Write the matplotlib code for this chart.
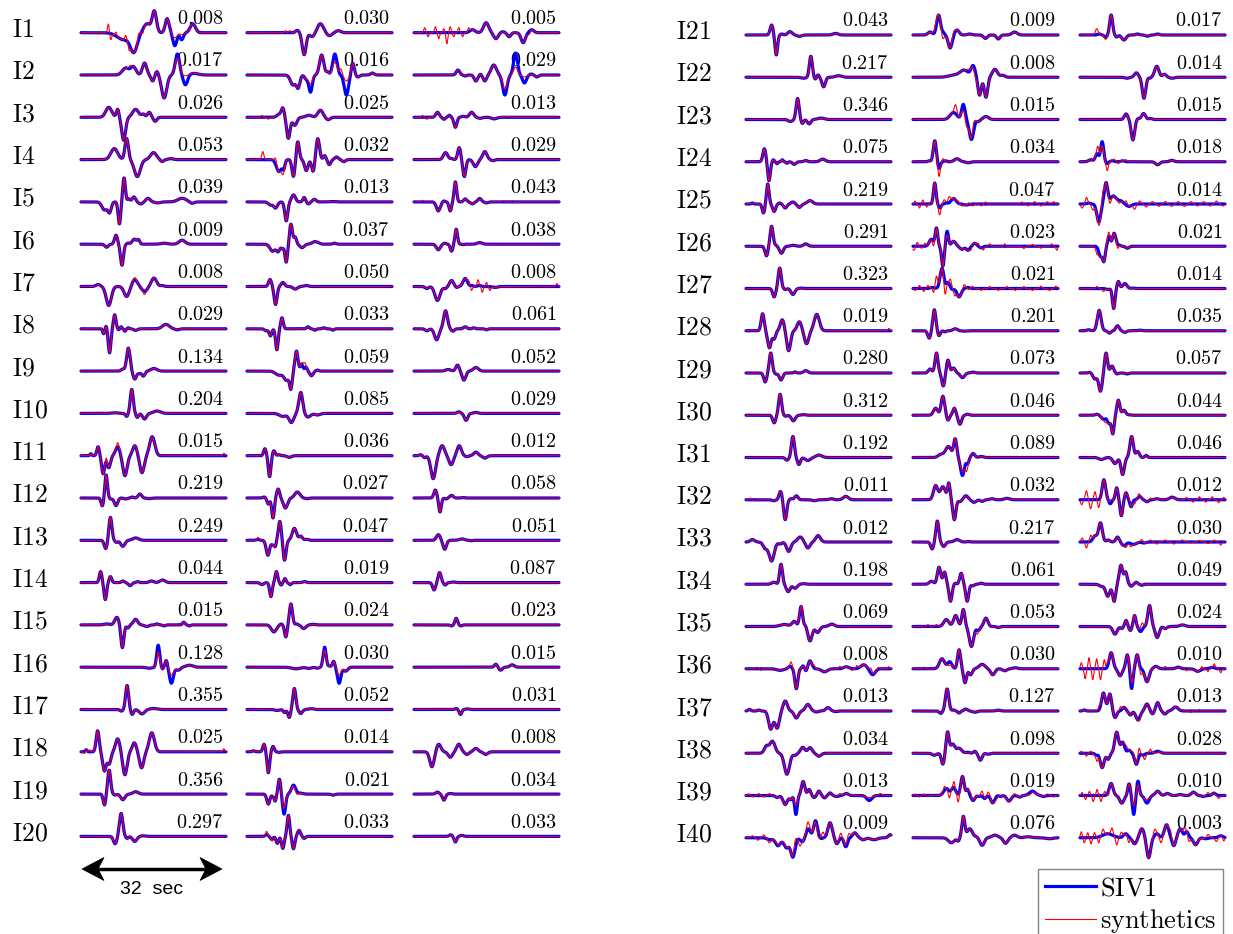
import numpy as np
import matplotlib
matplotlib.use("Agg")
import matplotlib.pyplot as plt
from matplotlib.lines import Line2D
from matplotlib.patches import Polygon

plt.rcParams['mathtext.fontset'] = 'cm'

# station names and the number printed above each trace (3 components per station)
stations = ["I%d" % k for k in range(1, 41)]
trace_labels = [
    [0.008, 0.030, 0.005], [0.017, 0.016, 0.029], [0.026, 0.025, 0.013], [0.053, 0.032, 0.029],
    [0.039, 0.013, 0.043], [0.009, 0.037, 0.038], [0.008, 0.050, 0.008], [0.029, 0.033, 0.061],
    [0.134, 0.059, 0.052], [0.204, 0.085, 0.029], [0.015, 0.036, 0.012], [0.219, 0.027, 0.058],
    [0.249, 0.047, 0.051], [0.044, 0.019, 0.087], [0.015, 0.024, 0.023], [0.128, 0.030, 0.015],
    [0.355, 0.052, 0.031], [0.025, 0.014, 0.008], [0.356, 0.021, 0.034], [0.297, 0.033, 0.033],
    [0.043, 0.009, 0.017], [0.217, 0.008, 0.014], [0.346, 0.015, 0.015], [0.075, 0.034, 0.018],
    [0.219, 0.047, 0.014], [0.291, 0.023, 0.021], [0.323, 0.021, 0.014], [0.019, 0.201, 0.035],
    [0.280, 0.073, 0.057], [0.312, 0.046, 0.044], [0.192, 0.089, 0.046], [0.011, 0.032, 0.012],
    [0.012, 0.217, 0.030], [0.198, 0.061, 0.049], [0.069, 0.053, 0.024], [0.008, 0.030, 0.010],
    [0.013, 0.127, 0.013], [0.034, 0.098, 0.028], [0.013, 0.019, 0.010], [0.009, 0.076, 0.003],
]

# SIV1 waveforms: each pulse is (time [s], amplitude, half width [s])
siv1_col1 = [
    [(10.0, -0.35, 1.5), (12.4, -0.9, 0.8), (15.5, 0.45, 0.8), (17.2, 1.05, 0.5), (20.2, 0.7, 0.45), (22.0, -0.65, 0.45), (23.6, -0.35, 0.4), (26.2, 0.45, 0.6)],
    [(10.5, 0.35, 0.8), (12.3, 0.4, 0.6), (14.9, 0.6, 0.5), (16.8, -0.3, 0.4), (17.8, 0.2, 0.35), (19.5, -1.15, 0.6), (22.6, 1.05, 0.5), (24.5, -0.5, 0.5), (26.5, 0.08, 1.0)],
    [(6.5, 0.5, 0.7), (8.6, 0.4, 0.3), (10.0, -1.15, 0.45), (12.8, 0.4, 0.7), (14.6, 0.15, 0.4), (16.0, 0.25, 0.4), (17.4, -0.2, 0.4)],
    [(7.8, 0.55, 0.8), (10.7, 1.05, 0.4), (13.2, -0.85, 0.7), (17.0, 0.35, 0.7), (19.0, -0.1, 0.4), (21.0, 0.05, 0.5)],
    [(5.5, -0.4, 0.6), (6.7, -0.5, 0.4), (9.0, -1.1, 0.3), (10.1, 1.2, 0.3), (11.2, 0.15, 0.3), (12.4, 0.25, 0.4), (14.0, -0.1, 0.5), (15.7, 0.18, 0.5), (18.0, -0.05, 0.6), (23.7, 0.18, 1.0), (26.0, -0.08, 0.5)],
    [(6.0, -0.15, 0.4), (8.2, 0.45, 0.35), (9.6, -1.05, 0.35), (11.0, 0.05, 0.3), (12.5, 0.25, 0.5), (13.5, 0.2, 0.3), (19.5, 0.05, 0.8), (23.7, 0.2, 0.7)],
    [(4.0, 0.1, 0.5), (6.5, -0.95, 0.6), (10.7, -0.5, 0.6), (12.6, 0.35, 0.6), (14.9, -0.25, 0.6), (17.1, 0.42, 0.6), (19.0, 0.05, 0.4)],
    [(5.3, -0.25, 0.2), (5.9, 0.15, 0.2), (6.7, -1.2, 0.3), (7.9, 0.7, 0.3), (8.8, -0.05, 0.2), (9.4, 0.1, 0.2), (10.3, -0.12, 0.2), (11.1, 0.05, 0.2), (12.8, -0.08, 0.4), (19.9, 0.22, 0.8), (22.5, -0.05, 0.5)],
    [(9.8, 0.1, 0.4), (11.1, 1.15, 0.4), (12.6, -0.4, 0.4), (13.6, -0.1, 0.3), (14.6, -0.25, 0.4), (17.1, 0.13, 0.7)],
    [(8.0, 0.03, 0.8), (10.7, -0.15, 0.3), (11.9, 1.2, 0.35), (13.2, -0.2, 0.3), (14.9, -0.28, 0.45), (17.8, 0.12, 0.8)],
    [(2.3, 0.1, 0.2), (4.0, 0.45, 0.3), (5.2, -0.9, 0.35), (6.5, -0.6, 0.4), (8.6, 0.45, 0.5), (10.3, -1.0, 0.5), (12.6, 0.5, 0.5), (14.3, -0.85, 0.5), (16.7, 0.95, 0.6)],
    [(5.0, -0.4, 0.3), (5.9, 1.15, 0.3), (7.0, -0.05, 0.3), (8.2, -0.38, 0.4), (10.5, -0.05, 0.4), (12.0, 0.05, 0.3), (13.8, 0.2, 0.4), (16.0, -0.03, 0.6)],
    [(5.8, -0.42, 0.35), (6.9, 1.15, 0.35), (8.3, -0.1, 0.35), (9.8, -0.3, 0.5), (12.8, 0.12, 0.7)],
    [(4.6, 0.55, 0.3), (5.7, -0.85, 0.3), (6.9, 0.3, 0.3), (9.8, 0.08, 0.3), (11.5, -0.15, 0.4), (13.3, 0.05, 0.3), (16.5, 0.08, 0.5), (19.1, 0.13, 0.6)],
    [(6.0, 0.05, 0.6), (8.4, 0.38, 0.5), (9.7, -1.15, 0.35), (11.0, -0.15, 0.3), (12.8, 0.28, 0.5), (15.4, -0.08, 0.5), (17.8, 0.05, 0.3), (19.5, -0.05, 0.3), (24.1, 0.13, 0.3), (25.4, -0.05, 0.3)],
    [(16.0, -0.05, 0.8), (18.1, 1.1, 0.35), (19.1, -0.1, 0.25), (20.0, 0.35, 0.3), (21.2, -0.8, 0.45), (22.8, -0.15, 0.5), (25.4, 0.1, 0.8)],
    [(9.5, -0.08, 0.35), (10.8, 1.2, 0.35), (12.0, -0.25, 0.3), (14.3, -0.22, 0.6), (17.0, 0.05, 0.8)],
    [(1.2, 0.1, 0.2), (3.9, 1.05, 0.35), (5.5, -0.95, 0.4), (6.6, -0.6, 0.4), (8.6, 0.65, 0.5), (10.3, -1.15, 0.5), (12.5, 0.45, 0.5), (14.2, -0.8, 0.5), (16.6, 0.95, 0.6)],
    [(5.5, -0.55, 0.3), (6.6, 1.2, 0.35), (8.0, -0.05, 0.3), (9.8, -0.28, 0.5), (12.8, 0.12, 0.6)],
    [(8.0, -0.37, 0.4), (9.4, 1.15, 0.4), (10.8, -0.1, 0.3), (12.6, -0.25, 0.5), (14.5, 0.03, 0.5)],
    [(6.0, 0.5, 0.35), (7.1, -1.0, 0.3), (8.4, 0.05, 0.3), (10.3, 0.17, 0.5), (12.5, -0.07, 0.5), (21.0, 0.08, 0.6)],
    [(13.5, -0.05, 0.6), (15.2, 1.05, 0.35), (16.2, -0.1, 0.25), (16.9, 0.12, 0.25), (18.2, -0.48, 0.4), (21.7, 0.08, 0.7)],
    [(10.4, -0.1, 0.5), (12.1, 1.05, 0.35), (13.2, -0.2, 0.3), (14.8, -0.22, 0.4), (17.6, 0.07, 0.7)],
    [(4.3, 0.65, 0.35), (5.4, -0.95, 0.3), (6.4, 0.1, 0.2), (7.3, -0.1, 0.2), (8.5, 0.1, 0.2), (9.6, -0.08, 0.2), (11.3, -0.13, 0.4), (14.0, 0.06, 0.4), (18.0, 0.13, 0.6)],
    [(1.5, 0.05, 0.2), (4.1, -0.45, 0.3), (5.1, 1.0, 0.3), (6.6, -0.37, 0.35), (7.9, 0.05, 0.3), (9.2, -0.2, 0.4), (11.0, 0.1, 0.45), (12.5, -0.17, 0.45), (15.0, 0.17, 0.6)],
    [(4.8, -0.48, 0.35), (6.0, 1.0, 0.35), (7.0, 0.05, 0.3), (8.3, -0.35, 0.45), (11.0, 0.05, 0.5), (14.0, 0.12, 0.5)],
    [(6.6, -0.42, 0.35), (7.9, 1.02, 0.35), (9.2, -0.05, 0.3), (11.0, -0.3, 0.45), (13.0, 0.02, 0.4)],
    [(3.9, 0.85, 0.35), (5.5, -0.85, 0.4), (6.6, -0.4, 0.35), (8.5, 0.55, 0.45), (10.0, -1.0, 0.45), (12.5, 0.45, 0.5), (14.2, -0.65, 0.5), (16.6, 0.82, 0.6)],
    [(4.5, -0.45, 0.35), (5.8, 1.0, 0.35), (7.0, -0.05, 0.3), (8.2, -0.35, 0.4), (11.5, 0.05, 0.3), (14.0, 0.12, 0.5)],
    [(6.6, -0.38, 0.35), (8.0, 1.05, 0.35), (9.3, -0.05, 0.3), (11.1, -0.28, 0.45), (13.5, 0.03, 0.5)],
    [(9.6, -0.13, 0.4), (11.0, 1.05, 0.35), (12.4, -0.35, 0.35), (14.5, -0.15, 0.6), (17.1, 0.12, 0.7)],
    [(6.5, -0.05, 0.4), (8.1, 0.42, 0.35), (9.2, -1.0, 0.35), (10.6, 0.05, 0.3), (11.8, 0.2, 0.4), (16.0, -0.05, 0.5), (20.0, 0.05, 0.5), (23.4, 0.17, 0.6)],
    [(1.5, 0.12, 0.5), (4.5, -0.3, 0.5), (6.0, -0.95, 0.6), (8.0, -0.1, 0.4), (10.0, -0.47, 0.5), (12.7, 0.25, 0.6), (14.5, -0.3, 0.5), (16.9, 0.32, 0.55)],
    [(6.5, 0.1, 0.5), (7.6, -0.05, 0.2), (8.2, 1.0, 0.35), (9.9, -0.37, 0.45), (11.5, -0.2, 0.5), (13.5, 0.03, 0.5)],
    [(9.0, 0.1, 1.0), (11.3, 0.25, 0.5), (12.9, 1.0, 0.35), (14.0, 0.1, 0.3), (15.0, -0.72, 0.5), (16.8, -0.3, 0.5), (20.1, 0.12, 0.6)],
    [(8.0, -0.08, 0.8), (10.3, 0.12, 0.4), (11.8, -1.0, 0.35), (13.4, 0.15, 0.3), (14.1, -0.15, 0.3), (15.0, 0.4, 0.45), (18.4, -0.15, 0.7), (23.5, 0.1, 0.6), (27.6, 0.2, 0.7), (29.7, -0.3, 0.6)],
    [(0.8, 0.08, 0.3), (3.0, 0.05, 0.3), (5.8, -0.9, 0.5), (7.3, -0.85, 0.5), (9.2, 0.5, 0.5), (11.8, -0.35, 0.5), (14.5, 0.33, 0.55), (16.5, -0.05, 0.4), (19.2, 0.17, 0.5), (21.0, -0.03, 0.4)],
    [(4.8, 0.35, 0.5), (6.2, 0.6, 0.6), (9.6, -1.05, 0.6), (11.5, -0.1, 0.4), (13.3, 0.3, 0.5), (15.0, 0.28, 0.5), (17.1, -0.15, 0.5)],
    [(7.3, -0.1, 0.4), (9.2, -0.45, 0.5), (10.5, -0.2, 0.3), (11.7, -0.95, 0.3), (13.4, 0.7, 0.4), (14.8, 0.3, 0.35), (16.0, -0.1, 0.35), (17.1, 0.22, 0.35), (18.4, -0.12, 0.35), (19.7, 0.13, 0.35), (21.2, -0.05, 0.4), (23.5, 0.1, 0.5), (28.9, -0.25, 0.6)],
    [(5.5, -0.1, 0.6), (7.5, -0.4, 0.6), (9.5, -0.5, 0.6), (11.0, -0.95, 0.5), (13.2, -0.2, 0.5), (14.6, 0.45, 0.5), (16.3, 0.85, 0.45), (17.6, -0.05, 0.3), (19.7, 0.75, 0.5), (21.3, -0.3, 0.4), (23.4, -0.45, 0.4), (25.5, 0.25, 0.5), (27.5, -0.1, 0.5), (30.0, -0.1, 0.8), (33.8, 0.15, 0.4)],
]

siv1_col2 = [
    [(11.8, 0.12, 0.4), (13.4, -1.1, 0.45), (15.3, -0.2, 0.6), (17.2, 0.45, 0.7), (19.3, -0.15, 0.6), (21.4, 0.1, 0.6)],
    [(10.8, -0.5, 0.6), (12.0, -0.6, 0.4), (13.9, -0.2, 0.4), (14.9, -0.85, 0.4), (17.5, 1.0, 0.5), (18.9, 0.15, 0.3), (20.6, 1.05, 0.5), (23.3, -1.0, 0.5), (24.8, 0.6, 0.35), (26.0, -0.1, 0.4), (29.4, 0.1, 0.4)],
    [(7.5, 0.15, 0.5), (8.4, 0.45, 0.35), (9.7, -1.05, 0.4), (11.2, -0.4, 0.5), (14.5, 0.1, 0.7), (17.2, 0.35, 0.6), (19.0, -0.12, 0.5)],
    [(7.5, -0.6, 0.6), (8.6, -0.4, 0.3), (10.9, -0.85, 0.35), (11.9, 0.9, 0.35), (13.9, -0.55, 0.4), (15.5, -0.6, 0.35), (16.6, 1.05, 0.4), (18.2, 0.2, 0.3), (19.3, -0.25, 0.35), (21.0, 0.13, 0.4), (22.7, -0.1, 0.4)],
    [(5.5, -0.15, 0.5), (6.7, -0.3, 0.45), (9.2, -0.95, 0.35), (10.9, 0.35, 0.45), (13.4, 0.22, 0.3), (14.4, -0.1, 0.3), (15.8, 0.13, 0.4), (20.0, 0.02, 0.6)],
    [(6.0, -0.35, 0.6), (7.3, -0.35, 0.4), (8.3, -0.2, 0.3), (9.2, -0.9, 0.3), (10.3, 1.0, 0.35), (11.3, 0.35, 0.3), (12.9, -0.17, 0.5), (16.0, 0.13, 0.7), (20.5, 0.05, 0.4)],
    [(5.4, 0.35, 0.35), (6.7, -0.9, 0.35), (8.4, 0.2, 0.4), (11.3, -0.13, 0.5), (13.9, 0.05, 0.5)],
    [(4.5, -0.1, 0.4), (5.5, -0.35, 0.3), (7.0, -1.05, 0.3), (8.2, 0.55, 0.3), (14.3, 0.1, 0.3), (15.9, -0.07, 0.3), (18.0, 0.05, 0.3), (20.1, -0.07, 0.3)],
    [(7.5, -0.2, 0.8), (9.3, -0.45, 0.6), (10.3, -0.8, 0.3), (11.6, 1.0, 0.35), (12.8, 0.35, 0.3), (13.8, 0.2, 0.3), (15.1, -0.23, 0.4), (16.5, 0.05, 0.3)],
    [(8.4, -0.15, 0.8), (10.4, -0.45, 0.55), (12.6, 1.05, 0.45), (14.3, -0.18, 0.6), (16.5, -0.08, 0.6)],
    [(4.2, 0.35, 0.3), (5.3, -1.05, 0.3), (6.3, 0.25, 0.3), (7.5, 0.05, 0.3), (9.9, -0.08, 0.5)],
    [(4.0, 0.05, 0.3), (5.0, -0.3, 0.3), (6.1, -1.0, 0.3), (7.3, 0.45, 0.35), (9.0, -0.5, 0.5), (11.8, 0.3, 0.6), (14.0, -0.03, 0.5)],
    [(2.5, 0.05, 0.3), (4.9, -0.75, 0.4), (6.0, -0.2, 0.3), (6.6, -0.3, 0.25), (7.7, 0.95, 0.35), (8.8, -1.0, 0.35), (11.1, 0.6, 0.5), (12.6, 0.2, 0.4), (14.0, 0.05, 0.4)],
    [(3.5, -0.1, 0.4), (5.6, -0.7, 0.3), (6.9, 0.55, 0.3), (8.0, -0.12, 0.25), (8.9, 0.2, 0.25), (10.1, -0.1, 0.3), (13.5, 0.05, 0.4)],
    [(6.3, -0.35, 0.6), (8.0, 0.05, 0.3), (9.1, -0.6, 0.3), (10.3, 1.05, 0.35), (11.6, 0.05, 0.3), (13.3, -0.18, 0.5), (15.5, 0.03, 0.5)],
    [(11.5, -0.08, 1.0), (14.5, -0.06, 0.6), (16.5, -0.05, 0.4), (18.2, 1.0, 0.35), (19.3, 0.05, 0.3), (20.3, 0.3, 0.3), (21.6, -0.8, 0.4), (23.1, -0.2, 0.5)],
    [(7.0, -0.05, 0.5), (8.8, -0.15, 0.3), (9.9, -0.4, 0.3), (11.1, 1.05, 0.35), (12.6, -0.2, 0.4), (15.1, 0.04, 0.6)],
    [(1.5, 0.05, 0.3), (4.0, 0.38, 0.3), (5.0, -1.05, 0.3), (6.1, 0.27, 0.3), (7.5, -0.03, 0.3)],
    [(5.0, -0.5, 0.35), (6.0, -0.1, 0.2), (6.6, -0.35, 0.25), (7.6, 0.75, 0.3), (8.7, -1.0, 0.35), (10.9, 0.45, 0.5), (12.5, 0.05, 0.5), (20.2, -0.05, 0.4)],
    [(4.6, 0.1, 0.3), (5.8, -0.15, 0.3), (7.1, -0.35, 0.3), (8.4, -0.6, 0.3), (9.7, 1.05, 0.3), (10.9, -0.62, 0.3), (12.2, 0.3, 0.35), (13.4, -0.1, 0.3)],
    [(4.0, 0.15, 0.5), (6.0, 1.0, 0.45), (7.1, 0.1, 0.3), (8.7, -0.65, 0.45), (10.3, 0.25, 0.5), (13.2, 0.05, 0.5), (17.0, -0.17, 0.45), (20.0, -0.2, 0.4), (23.8, 0.15, 0.6)],
    [(9.5, 0.1, 1.2), (12.0, 0.35, 1.0), (14.1, 0.55, 0.5), (15.6, -0.9, 0.4), (17.1, -1.0, 0.4), (19.2, 0.4, 0.6), (21.0, 0.1, 0.5)],
    [(9.5, 0.35, 0.8), (11.8, 0.75, 0.4), (13.7, -1.0, 0.5), (15.3, -0.1, 0.4), (17.1, 0.15, 0.6)],
    [(3.8, 0.05, 0.3), (5.1, 1.05, 0.35), (6.1, -0.35, 0.3), (7.6, 0.05, 0.3), (10.3, 0.15, 0.6), (13.0, -0.05, 0.5)],
    [(5.1, 1.05, 0.3), (6.3, -0.2, 0.3), (7.8, 0.05, 0.3), (9.5, 0.27, 0.6), (12.5, -0.05, 0.6)],
    [(4.3, 0.35, 0.5), (5.5, 0.9, 0.3), (7.0, -1.0, 0.3), (8.0, 0.75, 0.3), (9.5, 0.25, 0.5), (11.5, -0.15, 0.5), (12.9, -0.2, 0.4), (14.5, 0.15, 0.4), (16.0, -0.08, 0.4)],
    [(4.5, 0.05, 0.5), (6.8, 1.0, 0.45), (8.2, 0.3, 0.35), (9.3, -0.05, 0.3), (10.8, -0.42, 0.5), (12.8, 0.05, 0.5)],
    [(3.8, -0.37, 0.35), (5.0, 1.05, 0.35), (6.1, -0.25, 0.3), (7.5, -0.05, 0.3), (9.9, 0.1, 0.5), (12.0, -0.02, 0.5)],
    [(4.0, 0.2, 0.4), (5.5, 1.0, 0.35), (7.1, -0.65, 0.35), (8.2, 0.65, 0.35), (9.5, 0.25, 0.4), (11.6, -0.23, 0.5), (14.0, 0.04, 0.5)],
    [(5.3, 0.35, 0.5), (7.0, 0.95, 0.4), (8.2, -0.25, 0.3), (9.7, 0.35, 0.35), (11.0, -0.45, 0.4), (12.8, 0.05, 0.4)],
    [(6.5, 0.15, 0.6), (8.3, 0.55, 0.7), (9.9, 0.9, 0.35), (11.6, -0.9, 0.45), (12.8, -0.3, 0.3), (14.1, 0.2, 0.4), (16.0, 0.05, 0.5)],
    [(5.3, 0.7, 0.5), (7.0, 0.65, 0.6), (8.4, 0.8, 0.3), (9.7, -1.0, 0.35), (11.0, -0.1, 0.4), (12.4, 0.2, 0.5), (14.3, -0.13, 0.5), (16.2, -0.08, 0.4), (18.5, 0.05, 0.5), (22.0, 0.07, 0.6)],
    [(4.5, -0.35, 0.35), (5.7, 1.05, 0.35), (7.2, -0.22, 0.4), (10.3, 0.12, 0.6), (13.0, 0.02, 0.4)],
    [(4.3, 0.15, 0.5), (6.1, 0.85, 0.4), (7.4, 0.6, 0.35), (8.8, -0.85, 0.35), (9.9, 0.05, 0.3), (11.3, 0.55, 0.35), (12.7, -0.85, 0.35), (14.0, -0.08, 0.35), (16.0, 0.05, 0.4)],
    [(7.8, 0.35, 0.6), (10.0, 0.55, 0.5), (11.8, 0.85, 0.35), (13.7, -1.0, 0.5), (15.3, -0.2, 0.4), (17.1, 0.42, 0.45), (20.0, -0.05, 0.4)],
    [(6.8, 0.5, 0.6), (8.6, 0.35, 0.5), (10.8, 0.95, 0.35), (12.2, -0.7, 0.35), (13.5, -0.3, 0.4), (16.2, 0.22, 0.7), (18.7, -0.3, 0.5), (21.5, -0.1, 0.5), (24.0, 0.05, 0.5)],
    [(6.5, -0.12, 0.35), (8.0, 1.1, 0.4), (9.5, 0.05, 0.3), (10.8, -0.1, 0.3), (12.4, 0.1, 0.4), (14.5, -0.06, 0.5), (20.0, 0.04, 0.5)],
    [(5.0, -0.1, 0.5), (7.0, -0.55, 0.35), (8.1, 1.05, 0.35), (9.3, 0.45, 0.5), (10.8, 0.25, 0.6), (12.8, 0.05, 0.5), (14.5, 0.1, 0.3), (15.8, -0.35, 0.4), (17.6, -0.05, 0.4)],
    [(7.8, 0.35, 0.6), (9.5, 0.4, 0.5), (11.6, 0.95, 0.4), (12.8, 0.3, 0.3), (14.1, -0.25, 0.4), (15.5, -0.05, 0.3), (16.8, -0.15, 0.35), (18.7, -0.37, 0.45), (20.5, -0.05, 0.3), (22.5, -0.28, 0.5), (25.0, -0.08, 0.4), (28.0, 0.22, 0.7), (30.6, -0.05, 0.4)],
    [(9.0, -0.25, 0.7), (10.6, -0.15, 0.3), (11.8, 1.05, 0.35), (13.3, 0.45, 0.6), (14.8, 0.05, 0.4), (16.2, -0.38, 0.5), (19.2, 0.13, 0.7), (21.7, -0.28, 0.5), (23.8, 0.13, 0.6), (27.0, 0.05, 0.8), (32.0, -0.05, 0.8)],
]

siv1_col3 = [
    [(13.7, 0.15, 0.6), (16.9, 0.5, 0.6), (19.2, -0.3, 0.5), (20.8, 0.05, 0.4), (22.3, -0.2, 0.4), (25.6, -0.5, 0.5), (27.6, 0.15, 0.5)],
    [(10.3, 0.25, 0.4), (12.0, -0.05, 0.3), (14.5, -0.3, 0.4), (15.6, 0.05, 0.3), (16.6, -0.3, 0.4), (18.7, 0.5, 0.6), (21.3, -1.0, 0.5), (23.8, 1.1, 0.45), (25.9, -0.4, 0.45), (27.5, 0.05, 0.4), (28.8, -0.1, 0.4)],
    [(5.5, 0.25, 0.4), (7.0, -0.1, 0.3), (8.3, 0.1, 0.3), (9.7, -0.5, 0.35), (11.5, 0.05, 0.4), (13.5, 0.25, 0.5), (15.5, -0.05, 0.5), (18.8, -0.08, 0.6)],
    [(7.4, 0.35, 0.5), (8.8, 0.05, 0.3), (10.6, 0.6, 0.35), (11.8, -0.85, 0.35), (14.4, -0.35, 0.5), (16.6, 0.4, 0.5), (18.5, -0.05, 0.4)],
    [(5.7, -0.45, 0.45), (7.0, 0.05, 0.3), (8.5, -0.45, 0.3), (9.7, 1.0, 0.3), (12.0, 0.15, 0.35), (13.7, -0.1, 0.35), (15.4, 0.17, 0.4), (17.0, -0.05, 0.4)],
    [(5.7, -0.28, 0.45), (7.2, 0.05, 0.3), (8.8, -0.35, 0.3), (9.9, 0.75, 0.3), (11.5, -0.02, 0.3), (15.4, 0.08, 0.6)],
    [(3.0, -0.1, 0.4), (5.5, -0.7, 0.6), (7.3, -0.1, 0.4), (8.8, 0.3, 0.45), (10.0, -0.05, 0.3), (12.0, 0.4, 0.5), (13.5, 0.05, 0.3), (15.3, 0.05, 0.4), (19.0, -0.05, 0.5)],
    [(3.0, -0.1, 0.4), (5.3, -0.55, 0.5), (7.4, 0.9, 0.45), (9.1, -0.12, 0.35), (12.0, 0.1, 0.4), (14.0, 0.05, 0.3), (17.0, -0.05, 0.3)],
    [(8.0, 0.08, 0.6), (10.2, 0.3, 0.4), (11.7, -0.45, 0.45), (14.5, 0.18, 0.6)],
    [(10.5, 0.08, 0.4), (12.2, -0.35, 0.4), (14.5, 0.05, 0.5)],
    [(1.5, 0.05, 0.3), (2.5, -0.1, 0.3), (4.5, -1.15, 0.55), (6.6, 0.5, 0.55), (8.7, -0.45, 0.5), (10.6, 0.5, 0.5), (12.4, -0.05, 0.4), (14.5, 0.18, 0.5), (16.6, -0.12, 0.5)],
    [(5.0, 0.4, 0.35), (6.1, -0.7, 0.3), (7.5, -0.05, 0.3), (8.8, 0.13, 0.4), (11.5, 0.02, 0.4)],
    [(5.7, 0.28, 0.45), (7.2, -0.45, 0.4), (11.2, 0.07, 0.6), (13.5, -0.02, 0.3)],
    [(4.7, -0.37, 0.35), (6.0, 0.5, 0.35), (7.3, -0.12, 0.3), (9.2, 0.03, 0.4)],
    [(8.8, -0.05, 0.3), (9.9, 0.33, 0.3), (11.0, -0.05, 0.3)],
    [(19.2, 0.15, 0.35), (20.3, -0.15, 0.4), (23.0, 0.12, 0.5)],
    [(9.9, 0.05, 0.3), (10.9, -0.25, 0.3), (12.5, 0.03, 0.4)],
    [(4.2, -0.75, 0.5), (5.8, 0.38, 0.5), (8.5, -0.27, 0.5), (10.5, 0.38, 0.5), (12.4, -0.13, 0.45), (14.5, 0.17, 0.5), (16.8, -0.13, 0.5)],
    [(5.5, 0.1, 0.4), (7.0, -0.3, 0.35), (8.5, 0.03, 0.4)],
    [(8.6, 0.08, 0.35), (9.7, -0.28, 0.3), (11.2, 0.05, 0.4)],
    [(4.5, 0.05, 0.4), (6.0, -0.12, 0.3), (7.3, 1.0, 0.35), (8.6, -0.1, 0.3), (10.3, -0.25, 0.5), (13.5, 0.05, 0.4), (15.8, -0.06, 0.4), (18.2, 0.05, 0.4)],
    [(11.0, -0.05, 0.5), (13.2, 0.22, 0.45), (15.0, -1.05, 0.4), (16.4, -0.05, 0.25), (18.0, 0.55, 0.5), (19.8, 0.15, 0.4), (21.6, -0.05, 0.5)],
    [(10.8, 0.28, 0.4), (12.4, -1.02, 0.4), (13.6, 0.05, 0.3), (14.9, 0.3, 0.45), (16.5, 0.05, 0.4)],
    [(2.5, 0.1, 0.5), (4.0, 0.4, 0.4), (5.2, 1.0, 0.35), (6.3, -0.1, 0.3), (7.6, 0.05, 0.4), (10.0, 0.05, 0.4), (18.2, -0.15, 0.5), (21.5, 0.07, 0.5)],
    [(2.0, 0.05, 0.4), (4.4, -0.9, 0.45), (6.1, 1.05, 0.4), (7.8, 0.4, 0.7), (9.5, 0.15, 0.6), (11.5, -0.12, 0.6)],
    [(4.8, -0.5, 0.4), (5.6, -0.7, 0.3), (6.8, 0.5, 0.3), (8.0, 0.65, 0.4), (9.2, 0.05, 0.3), (11.1, -0.1, 0.4)],
    [(6.5, -0.05, 0.4), (7.9, -1.0, 0.3), (9.0, 0.35, 0.3), (10.5, 0.25, 0.5), (12.5, 0.02, 0.4)],
    [(2.0, 0.05, 0.4), (4.5, 1.02, 0.45), (6.9, -0.12, 0.35), (8.8, 0.25, 0.4), (10.5, -0.08, 0.4), (14.0, 0.03, 0.5)],
    [(2.5, 0.05, 0.4), (3.5, -0.3, 0.5), (4.8, -0.9, 0.4), (6.1, 1.0, 0.35), (7.5, 0.35, 0.4), (8.7, -0.05, 0.3), (11.0, -0.05, 0.4)],
    [(4.0, 0.05, 0.4), (5.5, -0.2, 0.5), (6.8, -0.4, 0.4), (7.7, -0.9, 0.3), (9.0, 0.75, 0.35), (10.3, 0.25, 0.4), (11.5, 0.02, 0.4)],
    [(5.0, -0.1, 0.6), (8.2, -0.3, 0.5), (10.0, -0.85, 0.4), (12.1, 1.05, 0.4), (13.5, 0.3, 0.4), (15.5, 0.1, 0.3)],
    [(5.6, 1.0, 0.4), (7.1, -0.2, 0.3), (8.6, 0.6, 0.3), (9.7, -0.8, 0.3), (10.8, 0.35, 0.3), (12.0, -0.35, 0.3), (14.0, 0.17, 0.4), (15.7, -0.1, 0.4), (18.0, 0.05, 0.5), (21.6, 0.13, 0.6)],
    [(3.5, 0.3, 0.5), (4.8, 0.95, 0.45), (6.6, 0.1, 0.4), (8.8, 0.25, 0.4), (10.3, -0.18, 0.5), (12.5, -0.12, 0.7), (15.0, -0.05, 0.5)],
    [(5.0, -0.1, 0.5), (6.5, -0.6, 0.5), (8.0, -0.85, 0.35), (9.6, 0.95, 0.4), (10.7, 0.6, 0.35), (12.0, -0.1, 0.3), (13.2, 0.1, 0.3), (14.5, -0.05, 0.3)],
    [(8.2, -0.38, 0.5), (9.8, -0.1, 0.3), (10.8, 0.3, 0.3), (11.8, -0.2, 0.3), (12.8, 0.55, 0.3), (14.2, -0.25, 0.4), (16.3, 1.05, 0.4), (18.1, -0.55, 0.45), (20.0, -0.1, 0.4), (24.0, 0.08, 0.6)],
    [(7.3, 0.8, 0.45), (9.4, -0.35, 0.45), (11.1, 0.7, 0.35), (12.1, -1.0, 0.3), (13.4, 0.7, 0.35), (15.7, -0.65, 0.5), (17.8, 0.12, 0.5), (23.0, 0.08, 0.5), (27.6, -0.13, 0.6), (31.0, 0.07, 0.5)],
    [(1.0, 0.05, 0.3), (5.5, 0.9, 0.45), (7.0, 0.85, 0.4), (8.2, -0.33, 0.4), (10.3, 0.18, 0.4), (11.8, -0.2, 0.35), (13.6, -0.45, 0.5), (15.7, 0.35, 0.45), (17.0, -0.15, 0.35), (18.2, 0.42, 0.4), (19.9, -0.15, 0.4), (22.4, 0.2, 0.6)],
    [(3.8, -0.1, 0.3), (5.2, -0.72, 0.45), (6.6, -0.3, 0.35), (8.6, 1.05, 0.45), (10.0, 0.55, 0.45), (11.5, 0.15, 0.4), (13.2, -0.55, 0.4), (14.8, -0.1, 0.4), (18.2, 0.1, 0.6)],
    [(7.3, 0.6, 0.45), (9.8, -0.38, 0.5), (11.5, 0.58, 0.3), (12.6, -0.95, 0.3), (13.6, 0.72, 0.3), (15.7, -0.38, 0.5), (18.2, 0.22, 0.5), (20.5, 0.1, 0.5), (23.5, 0.05, 0.5), (26.6, 0.17, 0.5), (28.9, -0.05, 0.4), (31.4, 0.12, 0.4)],
    [(6.5, 0.2, 1.2), (10.7, 0.2, 0.5), (12.8, -0.3, 0.5), (14.5, 0.45, 0.5), (16.1, -1.0, 0.45), (18.0, 0.2, 0.5), (20.3, 0.65, 0.5), (22.0, -0.4, 0.4), (23.5, 0.45, 0.5), (25.0, 0.3, 0.4), (27.1, -0.35, 0.5), (29.5, -0.05, 0.5), (33.0, 0.1, 0.5)],
]

# synthetics = SIV1 pulses plus these misfit pulses, keyed by (station, component)
synth_misfit = {
    (1, 1): [(6.4, 0.45, 0.2), (7.0, -0.3, 0.2), (8.2, 0.2, 0.2), (10.5, 0.25, 0.2), (11.3, -0.3, 0.2), (13.5, 0.3, 0.2), (14.5, -0.2, 0.2), (22.0, 0.4, 0.4), (23.6, 0.25, 0.4)],
    (1, 2): [(9.0, 0.1, 0.2), (10.0, 0.1, 0.2)],
    (1, 3): [(2.5, 0.25, 0.2), (3.3, -0.2, 0.2), (5.0, 0.3, 0.2), (5.8, -0.3, 0.2), (7.0, 0.2, 0.2), (7.7, -0.55, 0.2), (8.5, 0.3, 0.2), (9.3, -0.2, 0.2), (10.5, 0.25, 0.2), (11.4, -0.2, 0.2), (12.8, 0.2, 0.2), (27.0, -0.15, 0.3)],
    (2, 1): [(24.5, 0.45, 0.5), (22.6, -0.2, 0.4), (11.5, 0.15, 0.3)],
    (2, 2): [(14.9, 0.4, 0.4), (20.6, -0.4, 0.5), (23.3, 0.7, 0.5), (22.0, 0.3, 0.3)],
    (2, 3): [(23.8, -0.7, 0.45), (21.3, 0.3, 0.5), (25.9, 0.3, 0.45)],
    (3, 2): [(3.5, 0.1, 0.2), (5.0, -0.1, 0.2)],
    (3, 3): [(2.0, 0.1, 0.2), (3.0, -0.1, 0.2), (22.0, 0.05, 0.3)],
    (4, 2): [(3.7, 0.4, 0.25), (6.7, 0.3, 0.25), (8.3, -0.25, 0.3)],
    (5, 3): [(2.0, 0.08, 0.2), (21.0, 0.06, 0.2), (23.0, -0.06, 0.2)],
    (7, 1): [(14.9, -0.15, 0.3), (12.6, 0.1, 0.3)],
    (7, 3): [(12.8, 0.2, 0.2), (13.5, -0.25, 0.2), (15.0, 0.3, 0.2), (16.0, -0.3, 0.2), (17.0, 0.2, 0.2), (17.8, -0.2, 0.2), (33.5, 0.15, 0.2)],
    (9, 2): [(13.4, 0.3, 0.3)],
    (11, 1): [(8.6, 0.2, 0.3), (6.0, 0.2, 0.3), (33.5, 0.12, 0.2)],
    (13, 2): [(2.6, 0.1, 0.2)],
    (16, 1): [(18.1, -0.35, 0.35), (21.2, 0.4, 0.45)],
    (16, 2): [(21.6, 0.4, 0.4), (18.2, -0.15, 0.3)],
    (18, 1): [(0.8, -0.1, 0.2), (2.0, 0.1, 0.2), (33.5, 0.15, 0.2)],
    (19, 2): [(8.7, 0.3, 0.3), (11.5, -0.15, 0.4)],
    (20, 2): [(4.6, 0.15, 0.25), (6.0, -0.1, 0.2)],
    (21, 2): [(5.3, 0.3, 0.3), (7.0, -0.35, 0.3), (9.5, 0.2, 0.3)],
    (21, 3): [(3.9, 0.3, 0.3), (6.0, -0.1, 0.3)],
    (22, 2): [(13.0, 0.15, 0.3), (14.5, -0.3, 0.3)],
    (23, 2): [(10.0, 0.45, 0.3), (11.8, -0.3, 0.3), (12.5, -0.4, 0.3), (14.2, 0.4, 0.3)],
    (24, 2): [(6.1, -0.4, 0.25), (7.0, 0.15, 0.2)],
    (24, 3): [(4.2, 0.4, 0.25), (5.2, -0.2, 0.3), (6.4, -0.35, 0.25), (8.0, 0.1, 0.2), (9.0, -0.1, 0.2), (10.8, 0.1, 0.2)],
    (25, 2): [(0.5, 0.15, 0.2), (1.5, -0.2, 0.2), (2.3, 0.2, 0.2), (3.2, -0.15, 0.2), (6.2, -0.35, 0.25), (7.3, 0.2, 0.25), (8.5, 0.3, 0.3), (10.5, 0.1, 0.2), (11.5, -0.1, 0.2), (13.0, 0.1, 0.2), (14.0, -0.1, 0.2), (16.0, -0.1, 0.2), (17.0, 0.1, 0.2), (25.5, 0.1, 0.2), (27.0, -0.1, 0.2), (28.5, 0.12, 0.2), (30.0, -0.1, 0.2), (31.5, 0.12, 0.2), (33.0, 0.12, 0.2)],
    (25, 3): [(0.5, -0.2, 0.3), (1.5, 0.3, 0.25), (3.0, -0.3, 0.3), (4.6, -0.2, 0.3), (5.3, 0.6, 0.2), (7.0, -0.25, 0.3), (9.2, -0.15, 0.3), (10.8, 0.2, 0.3), (12.8, -0.25, 0.3), (14.0, 0.15, 0.3), (15.5, -0.15, 0.3), (17.0, 0.12, 0.3), (18.5, -0.12, 0.3), (20.0, 0.12, 0.3), (21.5, -0.12, 0.3), (23.0, 0.12, 0.3), (24.5, -0.12, 0.3), (26.0, 0.12, 0.3), (27.5, -0.1, 0.3), (29.0, 0.12, 0.3), (30.5, -0.1, 0.3), (32.0, 0.15, 0.3), (33.5, -0.1, 0.3)],
    (26, 2): [(0.2, -0.2, 0.25), (1.0, 0.2, 0.2), (2.0, -0.1, 0.2), (2.8, 0.15, 0.2), (4.8, -0.25, 0.25), (8.0, -0.2, 0.2), (13.5, -0.15, 0.2), (15.3, 0.15, 0.2), (16.5, -0.15, 0.2), (18.0, 0.12, 0.2), (21.5, 0.12, 0.2), (26.0, -0.12, 0.2), (28.0, 0.1, 0.2), (30.0, -0.1, 0.2), (32.5, 0.12, 0.2), (33.7, -0.2, 0.2)],
    (26, 3): [(4.0, -0.35, 0.3), (6.6, 0.25, 0.25), (8.8, -0.2, 0.25)],
    (27, 2): [(0.5, -0.1, 0.2), (1.5, 0.15, 0.2), (2.5, -0.15, 0.2), (3.5, 0.15, 0.2), (4.8, -0.25, 0.2), (5.5, 0.6, 0.25), (7.5, -0.6, 0.25), (8.8, 0.4, 0.25), (9.8, -0.3, 0.25), (12.0, 0.2, 0.25), (13.0, -0.1, 0.2), (14.0, 0.1, 0.2), (16.0, -0.1, 0.2), (18.0, 0.1, 0.2), (20.0, -0.1, 0.2), (22.0, 0.1, 0.2), (24.0, -0.1, 0.2), (26.0, 0.1, 0.2), (28.0, -0.1, 0.2), (30.0, 0.12, 0.2), (32.0, -0.1, 0.2), (33.5, 0.12, 0.2)],
    (27, 3): [(4.0, 0.1, 0.25), (5.5, -0.15, 0.25)],
    (28, 1): [(32.0, 0.05, 0.2), (33.5, 0.12, 0.2)],
    (30, 3): [(6.0, -0.2, 0.3)],
    (31, 2): [(12.5, -0.4, 0.25), (11.5, 0.2, 0.25)],
    (32, 1): [(1.0, 0.08, 0.2), (2.0, -0.06, 0.2)],
    (32, 3): [(0.4, -0.25, 0.25), (1.5, 0.45, 0.25), (2.5, -0.45, 0.25), (3.5, 0.4, 0.25), (4.4, -0.4, 0.25), (7.2, 0.2, 0.2), (11.5, 0.15, 0.2), (12.8, -0.2, 0.25), (13.8, 0.15, 0.2), (16.5, 0.1, 0.2), (25.0, 0.12, 0.2), (26.5, -0.12, 0.2), (28.0, 0.15, 0.2), (29.5, -0.12, 0.2), (31.0, 0.15, 0.2), (32.5, -0.15, 0.2), (33.7, 0.12, 0.2)],
    (33, 3): [(0.5, 0.2, 0.25), (1.5, -0.3, 0.25), (2.5, 0.3, 0.25), (10.8, -0.15, 0.3), (11.9, -0.15, 0.3), (14.5, 0.15, 0.3), (16.5, 0.1, 0.3), (18.0, -0.1, 0.3), (20.0, 0.1, 0.3), (22.0, -0.1, 0.3), (24.0, 0.1, 0.3), (26.0, -0.05, 0.3), (28.0, 0.08, 0.3), (30.0, -0.08, 0.3), (31.5, 0.1, 0.25), (33.0, -0.15, 0.25)],
    (35, 2): [(15.0, -0.2, 0.25), (3.5, 0.1, 0.2), (5.5, 0.1, 0.2)],
    (35, 3): [(14.5, 0.35, 0.3)],
    (36, 1): [(2.5, 0.08, 0.2), (3.5, -0.08, 0.2), (10.6, 0.25, 0.25), (16.0, 0.15, 0.2), (22.0, 0.12, 0.2), (24.8, -0.1, 0.2), (26.0, 0.15, 0.2), (29.3, 0.25, 0.3), (31.0, 0.1, 0.25), (33.5, 0.1, 0.2)],
    (36, 2): [(2.5, 0.08, 0.2), (8.5, -0.2, 0.3)],
    (36, 3): [(0.3, 0.3, 0.2), (1.2, -0.5, 0.2), (2.1, 0.55, 0.2), (3.0, -0.55, 0.2), (3.9, 0.5, 0.2), (4.8, -0.55, 0.2), (5.7, 0.45, 0.2), (6.4, 0.2, 0.2), (12.1, 0.3, 0.3), (14.3, -0.3, 0.3), (20.0, 0.12, 0.2), (25.0, -0.1, 0.2), (28.5, 0.15, 0.2), (30.0, -0.15, 0.2), (31.5, 0.2, 0.2), (33.0, -0.2, 0.2)],
    (37, 3): [(4.5, 0.2, 0.2), (9.5, 0.2, 0.2), (14.0, -0.15, 0.2), (24.0, 0.08, 0.2), (26.0, -0.08, 0.2), (28.0, 0.08, 0.2)],
    (38, 3): [(0.3, 0.1, 0.2), (1.5, -0.15, 0.2), (2.5, 0.1, 0.2), (4.0, -0.3, 0.25), (10.8, 0.25, 0.3), (12.5, 0.15, 0.25), (13.8, 0.4, 0.25), (15.2, -0.25, 0.25), (16.5, 0.2, 0.25), (18.0, -0.1, 0.2)],
    (39, 1): [(0.6, 0.08, 0.2), (1.7, -0.08, 0.2), (3.0, 0.1, 0.2), (4.2, -0.08, 0.2), (5.5, 0.1, 0.2), (11.7, 0.45, 0.25), (22.0, 0.1, 0.3), (25.0, 0.05, 0.3), (28.9, 0.15, 0.4), (31.5, 0.1, 0.3)],
    (39, 2): [(0.5, 0.07, 0.2), (1.5, -0.07, 0.2), (2.5, 0.08, 0.2), (3.5, -0.07, 0.2), (7.3, 0.2, 0.2), (8.5, -0.35, 0.25), (9.6, 0.3, 0.25), (10.6, -0.4, 0.25), (13.5, 0.2, 0.25), (16.2, 0.25, 0.3), (17.7, 0.2, 0.3), (19.5, -0.15, 0.3), (23.8, 0.1, 0.3), (27.5, -0.12, 0.4), (31.5, 0.08, 0.3), (33.0, -0.08, 0.2)],
    (39, 3): [(0.5, 0.15, 0.2), (1.3, -0.2, 0.2), (2.2, 0.2, 0.2), (3.1, -0.3, 0.2), (4.0, 0.3, 0.2), (4.9, -0.3, 0.2), (5.8, 0.2, 0.2), (6.7, -0.2, 0.2), (12.6, 0.45, 0.25), (13.6, -0.2, 0.25), (15.8, 0.2, 0.3), (30.0, 0.15, 0.3), (32.5, -0.15, 0.3)],
    (40, 1): [(1.5, 0.1, 0.3), (2.8, -0.12, 0.3), (4.2, 0.15, 0.3), (5.5, -0.15, 0.3), (7.0, 0.1, 0.3), (9.0, 0.1, 0.3), (11.5, 0.4, 0.3), (12.6, -0.3, 0.3), (14.5, 0.35, 0.4), (16.8, -0.3, 0.3), (18.0, 0.3, 0.3), (22.2, 0.25, 0.3), (24.0, 0.3, 0.4)],
    (40, 3): [(0.3, 0.3, 0.2), (1.0, -0.25, 0.2), (1.8, 0.25, 0.2), (2.6, -0.3, 0.2), (3.4, 0.25, 0.2), (4.4, -0.3, 0.2), (5.4, 0.3, 0.25), (7.5, 0.35, 0.25), (8.6, -0.4, 0.25), (9.7, 0.25, 0.25), (11.4, -0.3, 0.25), (17.5, 0.3, 0.3), (19.0, -0.3, 0.3), (21.2, 0.3, 0.3), (24.5, 0.3, 0.3), (25.5, -0.3, 0.3), (30.0, 0.2, 0.3), (32.0, -0.2, 0.3), (33.7, -0.2, 0.2)],
}

W, H = 1233, 934
T_LEN = 34.0
t = np.linspace(0.0, T_LEN, 800)


def waveform(pulses):
    y = np.zeros_like(t)
    for t0, amp, s in pulses:
        y += amp * np.exp(-0.5 * ((t - t0) / s) ** 2)
    return y


fig = plt.figure(figsize=(W / 100, H / 100), dpi=100)

# background axes in pixel units for labels, arrow and legend
bg = fig.add_axes([0, 0, 1, 1])
bg.set_xlim(0, W)
bg.set_ylim(H, 0)
bg.axis('off')

col_x = [[81, 247, 414], [746, 913, 1080]]
name_x = [12, 676]
row0 = [32.7, 35.0]
row_dy = [42.3, 42.25]
trace_w = 145
columns = [siv1_col1, siv1_col2, siv1_col3]

for k, name in enumerate(stations):
    panel = k // 20
    r = k % 20
    yb = row0[panel] + r * row_dy[panel]
    bg.text(name_x[panel], yb - 3, r'$\mathrm{%s}$' % name, fontsize=18.5,
            ha='left', va='center')
    for c in range(3):
        x0 = col_x[panel][c]
        bg.text(x0 + 143, yb - 14, r'$%.3f$' % trace_labels[k][c], fontsize=14.5,
                ha='right', va='center')
        ax = fig.add_axes([x0 / W, 1 - (yb + 30) / H, trace_w / W, 60 / H])
        ax.set_xlim(0, T_LEN)
        ax.set_ylim(-1.5, 1.5)
        ax.axis('off')
        obs = columns[c][k]
        syn = obs + synth_misfit.get((k + 1, c + 1), [])
        ax.plot(t, waveform(obs), color='#0000ff', lw=2.3, clip_on=False,
                solid_capstyle='round')
        ax.plot(t, waveform(syn), color='#ff0000', lw=0.8, clip_on=False)

# time scale bar: shaft plus two stealth-style heads
ya, xl, xr = 869, 82, 222
bg.plot([xl + 14, xr - 14], [ya, ya], color='black', lw=2.5, solid_capstyle='butt')
for tip, d in ((xl, 1), (xr, -1)):
    bg.add_patch(Polygon([(tip, ya), (tip + d * 22, ya - 11.5), (tip + d * 16, ya),
                          (tip + d * 22, ya + 11.5)], closed=True,
                         facecolor='black', edgecolor='black', lw=0.5))
bg.text(152, 890, '32  sec', fontsize=14, family='Liberation Sans',
        ha='center', va='center')

handles = [Line2D([], [], color='#0000ff', lw=2.3),
           Line2D([], [], color='#ff0000', lw=0.8)]
leg = fig.legend(handles, [r'$\mathrm{SIV1}$', r'$\mathrm{synthetics}$'],
                 loc='upper right', bbox_to_anchor=(1223 / W, 1 - 869 / H),
                 fontsize=19, frameon=True, fancybox=False, handlelength=1.95,
                 handletextpad=0.15, labelspacing=0.2, borderpad=0.25,
                 borderaxespad=0)
leg.get_frame().set_edgecolor('#666666')
leg.get_frame().set_linewidth(1.0)

fig.savefig('out.png', dpi=100)
